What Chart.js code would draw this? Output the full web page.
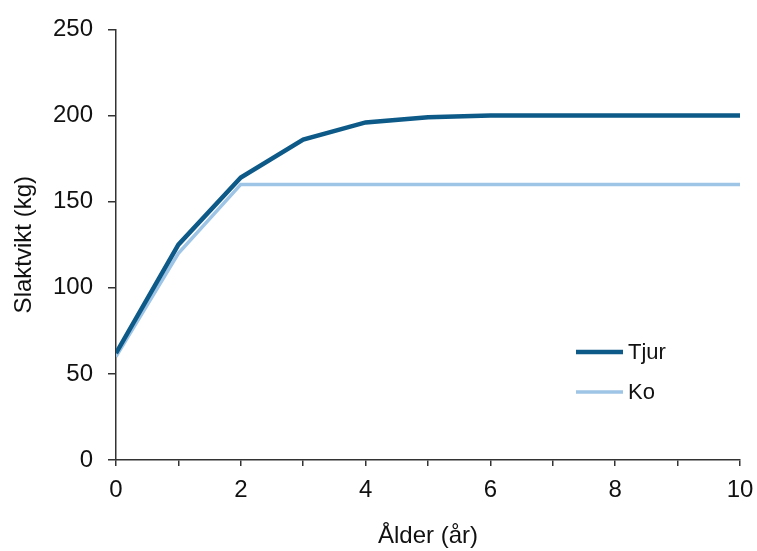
<!DOCTYPE html>
<html>
<head>
<meta charset="utf-8">
<script src="https://cdn.jsdelivr.net/npm/chart.js@4/dist/chart.umd.min.js"></script>
<style>
  html, body { margin: 0; padding: 0; background: #fff; }
  #wrap { width: 757px; height: 551px; }
</style>
</head>
<body>
<div id="wrap"><canvas id="chart" width="757" height="551"></canvas></div>
<script>
// age in years (x) and carcass weight in kg (y)
const ages = [0, 1, 2, 3, 4, 5, 6, 7, 8, 9, 10];
const tjurValues = [62, 125, 164, 186, 196, 199, 200, 200, 200, 200, 200];
const koValues = [60, 120, 160, 160, 160, 160, 160, 160, 160, 160, 160];
const seriesNames = ['Tjur', 'Ko'];
const xTitle = 'Ålder (år)';
const yTitle = 'Slaktvikt (kg)';

const FONT = "'Liberation Sans', Arial, sans-serif";
const AXIS_COLOR = '#333';

function toPoints(vals) {
  return ages.map((a, i) => ({ x: a, y: vals[i] }));
}

// legend drawn inside the plot, like the original
const innerLegend = {
  id: 'innerLegend',
  afterDraw(chart) {
    const ctx = chart.ctx;
    ctx.save();
    ctx.font = '22px ' + FONT;
    ctx.textBaseline = 'middle';
    ctx.fillStyle = '#111';
    chart.data.datasets.forEach((ds, i) => {
      const y = 352 + i * 40;
      ctx.strokeStyle = ds.borderColor;
      ctx.lineWidth = ds.borderWidth;
      ctx.beginPath();
      ctx.moveTo(576, y);
      ctx.lineTo(623, y);
      ctx.stroke();
      ctx.fillText(ds.label, 628, y + 1);
    });
    ctx.restore();
  }
};

new Chart(document.getElementById('chart'), {
  type: 'line',
  data: {
    datasets: [
      {
        label: seriesNames[0],
        data: toPoints(tjurValues),
        borderColor: '#0d5a88',
        borderWidth: 4.5,
        pointRadius: 0,
        tension: 0
      },
      {
        label: seriesNames[1],
        data: toPoints(koValues),
        borderColor: '#9ec5e5',
        borderWidth: 3.5,
        pointRadius: 0,
        tension: 0
      }
    ]
  },
  options: {
    responsive: false,
    animation: false,
    layout: { padding: { top: 29, right: 17, bottom: 0, left: 0 } },
    plugins: {
      legend: { display: false },
      tooltip: { enabled: false }
    },
    scales: {
      x: {
        type: 'linear',
        min: 0,
        max: 10,
        afterFit: (s) => {
          s.height = 91;
          s.paddingLeft = 0;
          s.paddingRight = 0;
        },
        border: { color: AXIS_COLOR, width: 1.5 },
        grid: { drawOnChartArea: false, drawTicks: true, tickLength: 6, color: AXIS_COLOR, lineWidth: 1.5 },
        ticks: {
          stepSize: 1,
          padding: 10,
          color: '#111',
          font: { family: FONT, size: 24 },
          maxRotation: 0,
          autoSkip: false,
          callback: (v) => (v % 2 === 0 ? String(v) : '')
        },
        title: {
          display: true,
          text: xTitle,
          color: '#111',
          font: { family: FONT, size: 24 },
          padding: { top: 0, bottom: 0 }
        }
      },
      y: {
        min: 0,
        max: 250,
        afterFit: (s) => { s.width = 116; },
        border: { color: AXIS_COLOR, width: 1.5 },
        grid: { drawOnChartArea: false, drawTicks: true, tickLength: 8, color: AXIS_COLOR, lineWidth: 1.5 },
        ticks: {
          stepSize: 50,
          padding: 15,
          color: '#111',
          font: { family: FONT, size: 24 }
        },
        title: {
          display: true,
          text: yTitle,
          color: '#111',
          font: { family: FONT, size: 24 },
          padding: { top: 10, bottom: 0 }
        }
      }
    }
  },
  plugins: [innerLegend]
});
</script>
</body>
</html>
